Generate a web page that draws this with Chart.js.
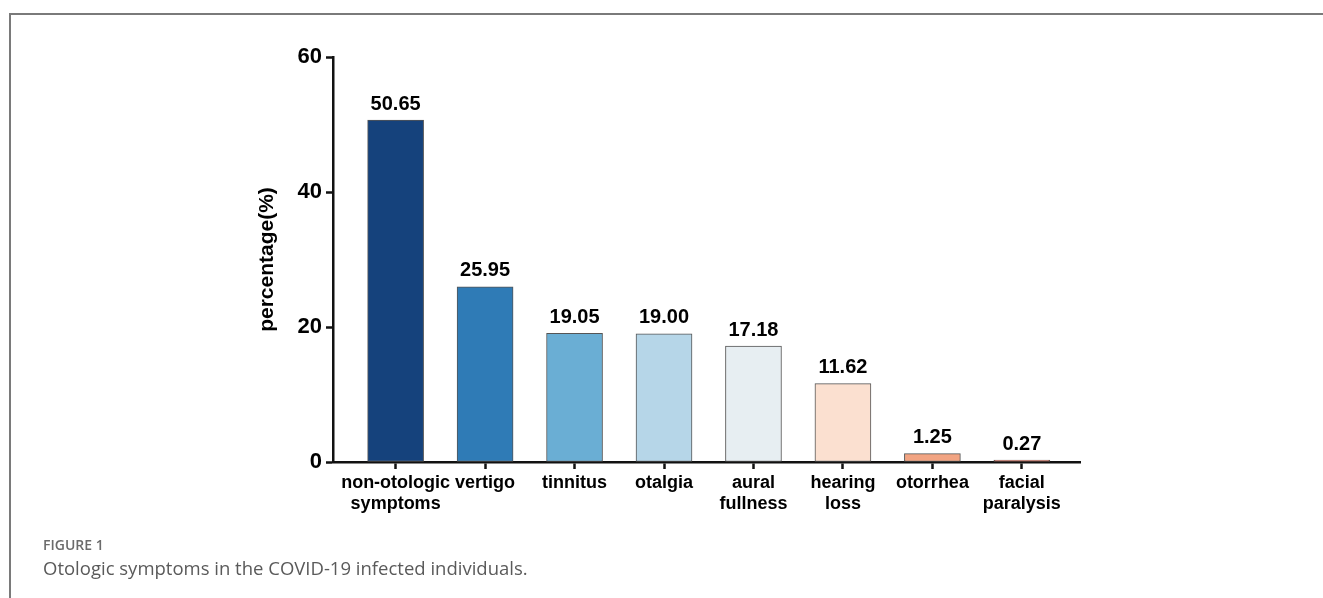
<!DOCTYPE html>
<html>
<head>
<meta charset="utf-8">
<script src="https://cdn.jsdelivr.net/npm/chart.js@4"></script>
<style>
  html, body { margin: 0; padding: 0; background: #fff; }
  body { width: 1323px; height: 598px; position: relative; overflow: hidden; }
  #frame { position: absolute; left: 9px; top: 13px; right: -5px; bottom: -5px;
           border-top: 2px solid #7a7a7a; border-left: 2px solid #7a7a7a; }
  #wrap { position: absolute; left: 0; top: 0; width: 1323px; height: 598px; }
  .fig { position: absolute; left: 43px; top: 535px; font-family: "Open Sans", sans-serif;
         font-weight: 600; font-size: 14px; color: #6b6b6b; }
  .cap { position: absolute; left: 43px; top: 555px; font-family: "Open Sans", sans-serif;
         font-size: 18.5px; color: #5a5a5a; }
</style>
</head>
<body>
<div id="frame"></div>
<div id="wrap"><canvas id="chart" width="1323" height="598"></canvas></div>
<div class="fig">FIGURE 1</div>
<div class="cap">Otologic symptoms in the COVID-19 infected individuals.</div>
<script>
// categories, shown as two lines where the figure wraps them
const categories = [
  ['non-otologic', 'symptoms'],
  ['vertigo'],
  ['tinnitus'],
  ['otalgia'],
  ['aural', 'fullness'],
  ['hearing', 'loss'],
  ['otorrhea'],
  ['facial', 'paralysis']
];
const percentages = [50.65, 25.95, 19.05, 19.00, 17.18, 11.62, 1.25, 0.27];
const barColors = ['#15427c', '#2f7bb6', '#6aaed4', '#b6d6e8', '#e7eef2', '#fbe0d0', '#f2a482', '#d6604d'];
const yTicks = [0, 20, 40, 60];

const FONT = 'Arial, "Liberation Sans", sans-serif';

const valueLabels = {
  id: 'valueLabels',
  afterDatasetsDraw(chart) {
    const ctx = chart.ctx;
    const meta = chart.getDatasetMeta(0);
    ctx.save();
    ctx.font = 'bold 20px ' + FONT;
    ctx.fillStyle = '#000';
    ctx.textAlign = 'center';
    ctx.textBaseline = 'bottom';
    meta.data.forEach((bar, i) => {
      ctx.fillText(percentages[i].toFixed(2), bar.x, bar.y - 6);
    });
    ctx.restore();
  }
};

new Chart(document.getElementById('chart'), {
  type: 'bar',
  data: {
    datasets: [{
      data: percentages.map((v, i) => ({ x: i, y: v })),
      backgroundColor: barColors,
      borderColor: '#555',
      borderWidth: 1,
      borderSkipped: false,
      barThickness: 56
    }]
  },
  options: {
    responsive: false,
    animation: false,
    events: [],
    layout: { padding: { left: 255, top: 57, right: 243, bottom: 76 } },
    plugins: { legend: { display: false }, tooltip: { enabled: false } },
    scales: {
      x: {
        type: 'linear',
        offset: false,
        min: -0.7,
        max: 7.65,
        afterBuildTicks(scale) {
          scale.ticks = categories.map((c, i) => ({ value: i }));
        },
        afterFit(scale) { scale.height = 60; },
        border: { color: '#111', width: 2.5 },
        grid: { offset: false, drawOnChartArea: false, tickLength: 7, tickWidth: 2.5, tickColor: '#111' },
        ticks: {
          autoSkip: false,
          maxRotation: 0,
          padding: 3,
          color: '#000',
          font: { family: FONT, size: 18, weight: 'bold', lineHeight: 1.2 },
          callback: (v) => categories[v]
        }
      },
      y: {
        min: 0,
        max: 60,
        afterBuildTicks(scale) {
          scale.ticks = yTicks.map(v => ({ value: v }));
        },
        afterFit(scale) { scale.width = 78; },
        border: { color: '#111', width: 2.5 },
        grid: { drawOnChartArea: false, tickLength: 7, tickWidth: 2.5, tickColor: '#111' },
        ticks: {
          padding: 4,
          color: '#000',
          font: { family: FONT, size: 22, weight: 'bold' }
        },
        title: {
          display: true,
          text: 'percentage(%)',
          color: '#000',
          padding: 0,
          font: { family: FONT, size: 21, weight: 'bold' }
        }
      }
    }
  },
  plugins: [valueLabels]
});
</script>
</body>
</html>
